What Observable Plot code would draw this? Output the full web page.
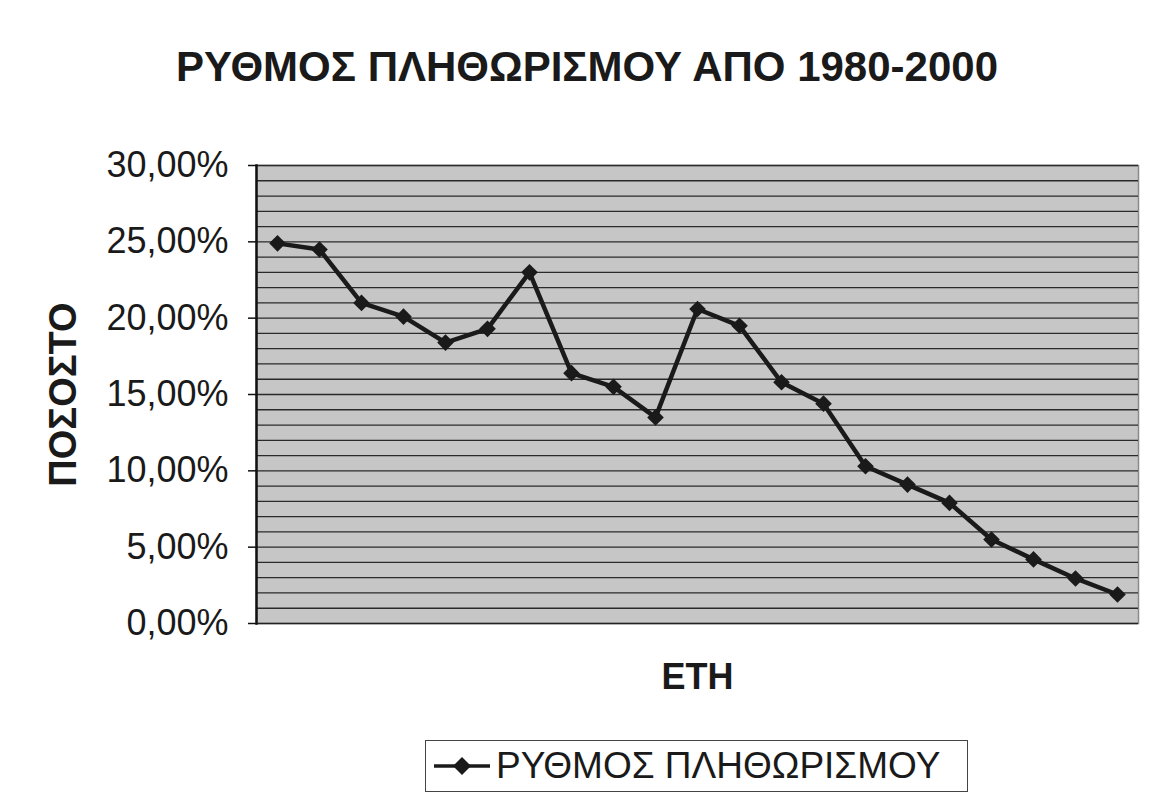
<!DOCTYPE html>
<html><head><meta charset="utf-8">
<script src="https://cdn.jsdelivr.net/npm/d3@7"></script>
<script src="https://cdn.jsdelivr.net/npm/@observablehq/plot@0.6"></script>
<style>
body{margin:0;background:#fff;font-family:"Liberation Sans",Arial,sans-serif;color:#1a1a1a;}
#wrap{position:relative;width:1152px;height:796px;overflow:hidden;background:#fff;}
#title{position:absolute;left:0;top:42px;width:1174px;text-align:center;font-weight:bold;font-size:42px;line-height:50px;white-space:nowrap;}
#chart{position:absolute;left:0;top:130px;}
#legend{position:absolute;left:425px;top:740px;width:543px;height:52px;border:1.5px solid #444;box-sizing:border-box;display:flex;align-items:center;font-size:37px;white-space:nowrap;}
#legend svg{margin-left:8px;margin-right:6px;}
</style></head>
<body><div id="wrap">
<div id="title"></div>
<div id="chart"></div>
<div id="legend"></div>
</div>
<script>
const titleText = "ΡΥΘΜΟΣ ΠΛΗΘΩΡΙΣΜΟΥ ΑΠΟ 1980-2000";
const yLabel = "ΠΟΣΟΣΤΟ";
const xLabel = "ΕΤΗ";
const seriesName = "ΡΥΘΜΟΣ ΠΛΗΘΩΡΙΣΜΟΥ";
const years = [1980,1981,1982,1983,1984,1985,1986,1987,1988,1989,1990,1991,1992,1993,1994,1995,1996,1997,1998,1999,2000];
const rates = [0.249,0.245,0.210,0.201,0.184,0.193,0.230,0.164,0.155,0.135,0.206,0.195,0.158,0.144,0.103,0.091,0.079,0.055,0.042,0.0295,0.019];
const yTicks = [0,0.05,0.10,0.15,0.20,0.25,0.30];
const gridLines = d3.range(1,31).map(d => d/100);

const data = years.map((y,i) => ({year:y, rate:rates[i]}));
const fmt = d3.formatLocale({decimal:",", thousands:".", grouping:[3], currency:["","€"]}).format(".2%");

document.getElementById("title").textContent = titleText;

const chart = Plot.plot({
  width:1152, height:600,
  marginTop:35, marginBottom:107, marginLeft:256, marginRight:14,
  style:{fontFamily:"'Liberation Sans', Arial, sans-serif", fontSize:"36px", color:"#1a1a1a", background:"transparent", overflow:"visible"},
  x:{type:"point", domain:years, padding:0.5, axis:null},
  y:{domain:[0,0.30], axis:null},
  marks:[
    Plot.frame({fill:"#c6c6c6", stroke:"#8a8a8a", strokeWidth:1.5}),
    Plot.ruleY(gridLines, {stroke:"#2a2a2a", strokeWidth:1.3}),
    Plot.ruleY([0], {stroke:"#222", strokeWidth:1.6}),
    Plot.axisY(yTicks, {tickFormat:fmt, tickSize:8, tickPadding:20, fontSize:36, label:null, stroke:"#111", strokeWidth:1.5}),
    Plot.frame({anchor:"left", stroke:"#111", strokeWidth:2.5}),
    Plot.line(data, {x:"year", y:"rate", stroke:"#1a1a1a", strokeWidth:4.5}),
    Plot.dot(data, {x:"year", y:"rate", symbol:"diamond2", r:7.5, fill:"#1a1a1a", stroke:"none"}),
    Plot.text([yLabel], {text:d=>d, frameAnchor:"left", textAnchor:"middle", rotate:-90, dx:-193, fontSize:38, fontWeight:"bold", fill:"#1a1a1a"}),
    Plot.text([xLabel], {text:d=>d, frameAnchor:"bottom", dy:65, fontSize:36, fontWeight:"bold", fill:"#1a1a1a"})
  ]
});
document.getElementById("chart").appendChild(chart);

const lg = document.getElementById("legend");
lg.innerHTML = `<svg width="56" height="30" viewBox="0 0 56 30"><line x1="0" y1="15" x2="56" y2="15" stroke="#1a1a1a" stroke-width="3.5"/><path d="M28,6L37,15L28,24L19,15Z" fill="#1a1a1a"/></svg><span></span>`;
lg.querySelector("span").textContent = seriesName;
</script>
</body></html>
